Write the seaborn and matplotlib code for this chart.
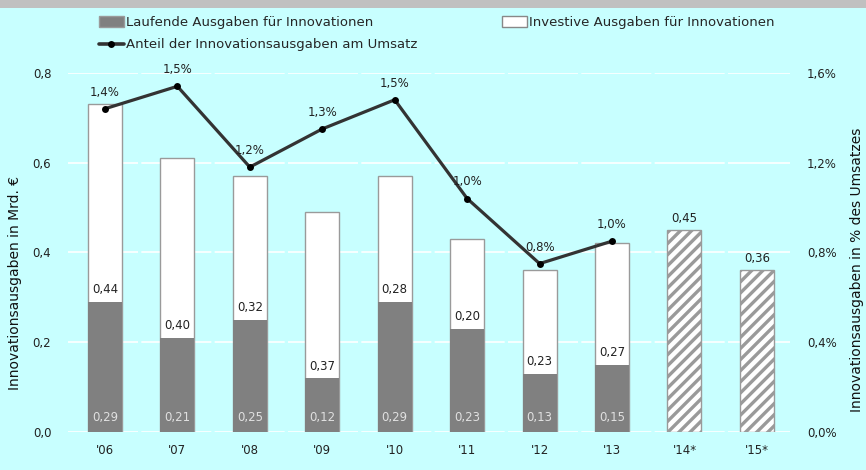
"""Innovationsausgaben: stacked bars with share-of-turnover line."""

import matplotlib

matplotlib.use("Agg")
import matplotlib.pyplot as plt
import pandas as pd
import seaborn as sns
from matplotlib.lines import Line2D
from matplotlib.patches import Patch, Rectangle

# data
years = ["'06", "'07", "'08", "'09", "'10", "'11", "'12", "'13"]
forecast_years = ["'14*", "'15*"]
laufend = [0.29, 0.21, 0.25, 0.12, 0.29, 0.23, 0.13, 0.15]
investiv = [0.44, 0.40, 0.32, 0.37, 0.28, 0.20, 0.23, 0.27]
forecast = [0.45, 0.36]
anteil = [1.44, 1.54, 1.18, 1.35, 1.48, 1.04, 0.75, 0.85]
anteil_labels = ["1,4%", "1,5%", "1,2%", "1,3%", "1,5%", "1,0%", "0,8%", "1,0%"]

BG = "#C8FFFF"
GREY_BAR = "#808080"
EDGE = "#9a9a9a"
TXT = "#222222"


def de(v, digits=2):
    return f"{v:.{digits}f}".replace(".", ",")


sns.set_theme(style="white")
plt.rcParams["font.family"] = ["DejaVu Sans"]
plt.rcParams["hatch.linewidth"] = 2.4
plt.rcParams["hatch.color"] = "#999999"

cats = years + forecast_years
totals = [a + b for a, b in zip(laufend, investiv)] + forecast
df_tot = pd.DataFrame({"jahr": cats, "wert": totals})
df_lauf = pd.DataFrame({"jahr": years, "wert": laufend})
df_line = pd.DataFrame({"jahr": years, "anteil": anteil})

fig = plt.figure(figsize=(8.66, 4.70), dpi=100, facecolor=BG)
fig.patches.append(Rectangle((0, 1 - 8 / 470), 1, 8 / 470, transform=fig.transFigure,
                             facecolor="#C0C0C0", edgecolor="none", zorder=0))
ax = fig.add_axes([0.0785, 0.081, 0.834, 0.764])
ax.set_facecolor(BG)

sns.barplot(data=df_tot, x="jahr", y="wert", order=cats, color="white",
            width=0.47, edgecolor=EDGE, linewidth=1.0, saturation=1, ax=ax)
for patch, cat in zip(ax.patches, cats):
    if cat in forecast_years:
        patch.set_hatch("///")
sns.barplot(data=df_lauf, x="jahr", y="wert", order=cats, color=GREY_BAR,
            width=0.47, edgecolor="none", saturation=1, ax=ax)

ax.set_ylim(0, 0.8)
ax.set_xlim(-0.51, 9.46)
ax.set_yticks([0, 0.2, 0.4, 0.6, 0.8])
ax.set_yticklabels([de(t, 1) for t in ax.get_yticks()])
ax.set_xlabel("")
ax.set_ylabel("")
ax.tick_params(axis="both", length=0, labelsize=8.5, colors=TXT)
ax.tick_params(axis="x", pad=9)
ax.tick_params(axis="y", pad=12)
ax.set_axisbelow(True)
ax.yaxis.grid(True, color="white", linewidth=1.2, linestyle=(0, (42, 2)))
for s in ax.spines.values():
    s.set_visible(False)

# value labels
for i, (l, v) in enumerate(zip(laufend, investiv)):
    ax.text(i, 0.018, de(l), ha="center", va="bottom", fontsize=8.5, color="#e0e0e0")
    ax.text(i, l + 0.012, de(v), ha="center", va="bottom", fontsize=8.5, color=TXT)
for j, f in enumerate(forecast):
    ax.text(len(years) + j, f + 0.012, de(f), ha="center", va="bottom",
            fontsize=8.5, color=TXT)

ax2 = ax.twinx()
ax2.patch.set_visible(False)
sns.pointplot(data=df_line, x="jahr", y="anteil", order=cats, color="#333333",
              markers="o", linewidth=2.3, markersize=5, markeredgewidth=0,
              markerfacecolor="black", ax=ax2)
ax2.set_ylim(0, 1.6)
ax2.set_xlim(-0.51, 9.46)
ax2.set_yticks([0, 0.4, 0.8, 1.2, 1.6])
ax2.set_yticklabels([de(t, 1) + "%" for t in ax2.get_yticks()])
ax2.tick_params(axis="y", length=0, labelsize=8.5, colors=TXT, pad=12)
ax2.set_xlabel("")
ax2.set_ylabel("")
for s in ax2.spines.values():
    s.set_visible(False)
for i, (v, lab) in enumerate(zip(anteil, anteil_labels)):
    ax2.text(i, v + 0.045, lab, ha="center", va="bottom", fontsize=8.5, color=TXT,
             clip_on=False)

# axis titles
fig.text(15 / 866, 1 - 283 / 470, "Innovationsausgaben in Mrd. €", rotation=90,
         ha="center", va="center", fontsize=10, color="#111")
fig.text(857 / 866, 1 - 270 / 470, "Innovationsausgaben in % des Umsatzes", rotation=90,
         ha="center", va="center", fontsize=10, color="#111")

handles = [
    Patch(facecolor=GREY_BAR, edgecolor="#9a9a9a"),
    Line2D([0], [0], color="#333333", linewidth=2.6, marker="o", markersize=5,
           markeredgewidth=0, markerfacecolor="black"),
    Patch(facecolor="white", edgecolor="#888888"),
]
labels = ["Laufende Ausgaben für Innovationen",
          "Anteil der Innovationsausgaben am Umsatz",
          "Investive Ausgaben für Innovationen"]
fig.legend(handles, labels, loc="upper left", bbox_to_anchor=(0.108, 0.977), ncol=2,
           frameon=False, handlelength=1.9, handleheight=0.8, handletextpad=0.15,
           columnspacing=6.4, labelspacing=0.7, borderaxespad=0,
           prop={"family": ["DejaVu Sans"], "size": 9.5})

fig.savefig("out.png", dpi=100, facecolor=BG)
